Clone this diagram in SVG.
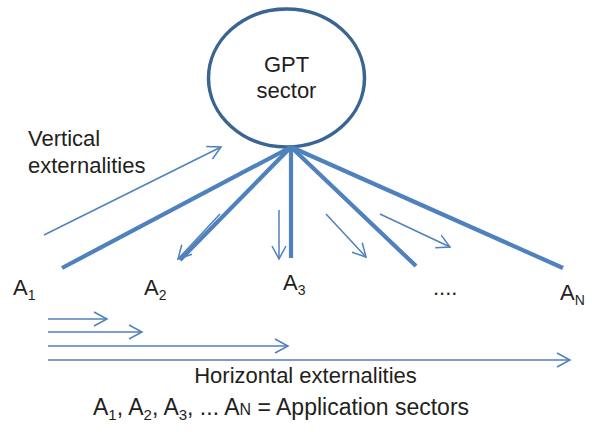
<svg xmlns="http://www.w3.org/2000/svg" width="592" height="432" viewBox="0 0 592 432">
  <style>
    .lbl { font-family: "Liberation Sans", Arial, sans-serif; font-size: 22px; fill: #231f20; }
    .sub { font-size: 14px; }
    .legend { font-size: 23px; }
    .legend .sub { font-size: 15px; }
    .spoke { stroke: #4f81bd; stroke-width: 4.2; fill: none; }
    .ext { stroke: #4f81bd; stroke-width: 1.5; fill: none; marker-end: url(#open); }
  </style>
  <defs>
    <marker id="open" viewBox="-1 -1 15 16" refX="13" refY="7" markerWidth="15" markerHeight="16" markerUnits="userSpaceOnUse" orient="auto" overflow="visible">
      <path d="M0,0 L13,7 L0,14" fill="none" stroke="#4f81bd" stroke-width="1.5"/>
    </marker>
  </defs>

  <rect width="592" height="432" fill="#ffffff"/>

  <!-- GPT sector hub -->
  <g id="gpt">
    <ellipse cx="286.5" cy="78" rx="78" ry="69" fill="#ffffff" stroke="#3a6592" stroke-width="3.5"/>
    <text class="lbl" x="286.5" y="72" text-anchor="middle">GPT</text>
    <text class="lbl" x="286.5" y="98" text-anchor="middle">sector</text>
  </g>

  <!-- Connectors: spokes and externality arrows -->
  <g id="connectors">
    <line class="spoke" x1="291" y1="147" x2="62" y2="268"/>
    <line class="spoke" x1="291" y1="147" x2="180" y2="260"/>
    <line class="spoke" x1="291" y1="147" x2="291" y2="258"/>
    <line class="spoke" x1="291" y1="147" x2="416" y2="266"/>
    <line class="spoke" x1="291" y1="147" x2="563" y2="268"/>

    <!-- vertical externalities -->
    <line class="ext" x1="44" y1="235" x2="221" y2="147"/>
    <line class="ext" x1="220" y1="214" x2="178" y2="259"/>
    <line class="ext" x1="279" y1="210" x2="279" y2="259"/>
    <line class="ext" x1="326" y1="214" x2="366" y2="257"/>
    <line class="ext" x1="380" y1="214" x2="450" y2="247"/>

    <!-- horizontal externalities -->
    <line class="ext" x1="48" y1="319" x2="107" y2="319"/>
    <line class="ext" x1="48" y1="332" x2="142" y2="332"/>
    <line class="ext" x1="48" y1="346" x2="288" y2="346"/>
    <line class="ext" x1="48" y1="360" x2="570" y2="360"/>
  </g>

  <!-- Application sectors -->
  <g id="a1"><text class="lbl" x="13" y="295">A<tspan class="sub" dy="5">1</tspan></text></g>
  <g id="a2"><text class="lbl" x="144" y="295">A<tspan class="sub" dy="5">2</tspan></text></g>
  <g id="a3"><text class="lbl" x="283" y="290">A<tspan class="sub" dy="5">3</tspan></text></g>
  <g id="dots"><text class="lbl" x="433" y="295">....</text></g>
  <g id="an"><text class="lbl" x="560" y="300">A<tspan class="sub" dy="5">N</tspan></text></g>

  <!-- Labels -->
  <g id="vertical-label">
    <text class="lbl" x="28" y="146">Vertical</text>
    <text class="lbl" x="28" y="173">externalities</text>
  </g>
  <g id="horizontal-label">
    <text class="lbl" x="305.5" y="383" text-anchor="middle">Horizontal externalities</text>
  </g>
  <g id="legend">
    <text class="lbl legend" x="93" y="415">A<tspan class="sub" dy="5">1</tspan><tspan dy="-5">, A</tspan><tspan class="sub" dy="5">2</tspan><tspan dy="-5">, A</tspan><tspan class="sub" dy="5">3</tspan><tspan dy="-5">, ... A</tspan><tspan font-size="16">N</tspan> = Application sectors</text>
  </g>
</svg>
